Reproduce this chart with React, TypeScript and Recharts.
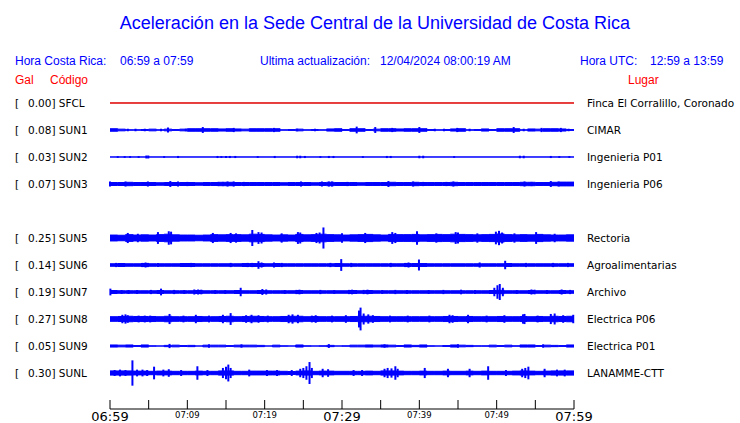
import { Area, ComposedChart, ErrorBar, Scatter, XAxis, YAxis } from 'recharts';

// minutes after 06:59 (local time)
const xTicks = [0, 5, 10, 15, 20, 25, 30, 35, 40, 45, 50, 55, 60];
const xTickLabels = ['06:59', '', '07:09', '', '07:19', '', '07:29', '', '07:39', '', '07:49', '', '07:59'];
const majorTicks = [0, 30, 60];

const codes = ['SFCL', 'SUN1', 'SUN2', 'SUN3', 'SUN5', 'SUN6', 'SUN7', 'SUN8', 'SUN9', 'SUNL'];
const peakGal = ['0.00', '0.08', '0.03', '0.07', '0.25', '0.14', '0.19', '0.27', '0.05', '0.30'];
const places = [
  'Finca El Corralillo, Coronado',
  'CIMAR',
  'Ingenieria P01',
  'Ingenieria P06',
  'Rectoria',
  'Agroalimentarias',
  'Archivo',
  'Electrica P06',
  'Electrica P01',
  'LANAMME-CTT'
];
// row of each station (row 4 is empty)
const rows = [0, 1, 2, 3, 5, 6, 7, 8, 9, 10];

// background half-amplitude per minute, in Gal
const sfclEnv = [0];
const sun1Env = [
  0.03, 0.02, 0.005, 0.005, 0.01, 0.02, 0.005, 0.02, 0.01, 0.02,
  0.03, 0.03, 0.03, 0.03, 0.025, 0.03, 0.025, 0.02, 0.03, 0.03,
  0.03, 0.03, 0.005, 0.01, 0.02, 0.005, 0.01, 0.005, 0.025, 0.03,
  0.01, 0.03, 0.03, 0.01, 0.02, 0.03, 0.03, 0.025, 0.03, 0.03,
  0.03, 0.01, 0.005, 0.01, 0.025, 0.03, 0.005, 0.01, 0.025, 0.01,
  0.03, 0.03, 0.03, 0.005, 0.025, 0.02, 0.03, 0.03, 0.025, 0.01
];
const sun2Env = [0];
const sun3Env = [
  0.035, 0.035, 0.04, 0.035, 0.035, 0.035, 0.03, 0.035, 0.035, 0.035,
  0.035, 0.03, 0.035, 0.035, 0.04, 0.04, 0.035, 0.035, 0.035, 0.035,
  0.035, 0.035, 0.03, 0.035, 0.035, 0.035, 0.03, 0.035, 0.04, 0.035,
  0.035, 0.035, 0.03, 0.035, 0.035, 0.035, 0.04, 0.035, 0.035, 0.04,
  0.035, 0.035, 0.035, 0.035, 0.04, 0.035, 0.035, 0.035, 0.035, 0.035,
  0.035, 0.035, 0.035, 0.04, 0.04, 0.035, 0.035, 0.04, 0.045, 0.045
];
const sun5Env = [
  0.07, 0.065, 0.08, 0.07, 0.075, 0.07, 0.08, 0.09, 0.075, 0.07,
  0.07, 0.065, 0.07, 0.08, 0.075, 0.08, 0.08, 0.075, 0.09, 0.085,
  0.075, 0.07, 0.075, 0.07, 0.085, 0.075, 0.08, 0.09, 0.08, 0.075,
  0.07, 0.075, 0.08, 0.085, 0.075, 0.07, 0.085, 0.08, 0.08, 0.085,
  0.075, 0.08, 0.085, 0.08, 0.09, 0.085, 0.08, 0.075, 0.08, 0.085,
  0.095, 0.08, 0.075, 0.08, 0.075, 0.085, 0.075, 0.07, 0.07, 0.075
];
const sun6Env = [
  0.03, 0.035, 0.03, 0.03, 0.035, 0.03, 0.03, 0.03, 0.03, 0.035,
  0.035, 0.03, 0.03, 0.03, 0.03, 0.03, 0.03, 0.035, 0.035, 0.035,
  0.03, 0.035, 0.03, 0.03, 0.03, 0.03, 0.03, 0.03, 0.03, 0.035,
  0.03, 0.03, 0.03, 0.03, 0.03, 0.03, 0.03, 0.03, 0.035, 0.035,
  0.035, 0.03, 0.03, 0.03, 0.03, 0.03, 0.03, 0.03, 0.03, 0.03,
  0.03, 0.035, 0.03, 0.03, 0.03, 0.03, 0.03, 0.03, 0.03, 0.03
];
const sun7Env = [
  0.035, 0.03, 0.03, 0.03, 0.03, 0.03, 0.035, 0.03, 0.03, 0.03,
  0.03, 0.035, 0.03, 0.03, 0.03, 0.03, 0.035, 0.03, 0.03, 0.035,
  0.03, 0.03, 0.03, 0.03, 0.035, 0.03, 0.03, 0.03, 0.03, 0.03,
  0.03, 0.035, 0.03, 0.035, 0.03, 0.03, 0.03, 0.03, 0.03, 0.03,
  0.03, 0.03, 0.03, 0.03, 0.03, 0.03, 0.03, 0.03, 0.03, 0.035,
  0.04, 0.03, 0.03, 0.03, 0.035, 0.03, 0.03, 0.03, 0.035, 0.03
];
const sun8Env = [
  0.055, 0.06, 0.065, 0.06, 0.06, 0.06, 0.055, 0.065, 0.055, 0.055,
  0.055, 0.06, 0.055, 0.055, 0.06, 0.065, 0.055, 0.06, 0.065, 0.06,
  0.055, 0.055, 0.06, 0.065, 0.065, 0.055, 0.06, 0.055, 0.055, 0.055,
  0.055, 0.06, 0.065, 0.065, 0.06, 0.055, 0.055, 0.055, 0.055, 0.055,
  0.055, 0.055, 0.055, 0.06, 0.06, 0.055, 0.06, 0.055, 0.055, 0.055,
  0.06, 0.055, 0.055, 0.06, 0.055, 0.06, 0.055, 0.065, 0.06, 0.065
];
const sun9Env = [
  0.025, 0.02, 0.025, 0.01, 0.025, 0.005, 0, 0.015, 0.02, 0.01,
  0.015, 0, 0.02, 0.02, 0.02, 0.01, 0.02, 0.02, 0.02, 0.015,
  0, 0.02, 0.005, 0, 0.025, 0.005, 0, 0.005, 0.015, 0,
  0.005, 0.02, 0.02, 0.025, 0.02, 0.025, 0.02, 0.01, 0.025, 0.015,
  0.025, 0.005, 0, 0.01, 0.025, 0.02, 0.015, 0.005, 0.005, 0.02,
  0.01, 0.02, 0.005, 0.025, 0.025, 0.01, 0.02, 0.015, 0.01, 0.025
];
const sunlEnv = [
  0.05, 0.05, 0.05, 0.045, 0.045, 0.04, 0.045, 0.045, 0.04, 0.04,
  0.04, 0.045, 0.04, 0.04, 0.05, 0.05, 0.04, 0.04, 0.045, 0.045,
  0.045, 0.045, 0.04, 0.035, 0.045, 0.05, 0.04, 0.045, 0.045, 0.04,
  0.04, 0.04, 0.04, 0.045, 0.04, 0.05, 0.05, 0.045, 0.04, 0.04,
  0.045, 0.04, 0.04, 0.045, 0.04, 0.04, 0.045, 0.04, 0.045, 0.04,
  0.04, 0.04, 0.045, 0.05, 0.045, 0.04, 0.045, 0.05, 0.05, 0.05
];

// short bursts: [minute, half-amplitude in Gal]
const sfclPeaks: number[][] = [];
const sun1Peaks = [
  [2.3, 0.03], [3.3, 0.03], [4.5, 0.03], [6.6, 0.03], [7.5, 0.06], [9.8, 0.03], [12.0, 0.07],
  [16.0, 0.05], [21.2, 0.05], [24.2, 0.03], [26.5, 0.03], [31.9, 0.08], [34.3, 0.07], [36.5, 0.05],
  [40.0, 0.07], [42.0, 0.03], [43.2, 0.03], [44.9, 0.05], [46.5, 0.03], [52.2, 0.07], [53.5, 0.03],
  [55.8, 0.05], [58.3, 0.05], [59.3, 0.03]
];
const sun2Peaks = [
  [1.0, 0.02], [1.9, 0.02], [2.6, 0.02], [3.7, 0.02], [4.7, 0.035], [4.95, 0.035], [7.0, 0.02],
  [8.8, 0.025], [13.9, 0.025], [14.4, 0.02], [15.0, 0.025], [15.5, 0.025], [16.2, 0.025],
  [19.1, 0.02], [21.3, 0.025], [24.2, 0.03], [24.6, 0.03], [25.2, 0.025], [27.2, 0.02],
  [28.3, 0.025], [28.9, 0.025], [32.7, 0.02], [35.8, 0.025], [36.3, 0.025], [40.0, 0.03],
  [40.5, 0.03], [44.5, 0.02], [53.0, 0.03], [53.5, 0.03], [57.0, 0.025], [58.1, 0.02], [59.4, 0.02]
];
const sun3Peaks = [
  [0.0, 0.06], [2.0, 0.06], [4.9, 0.06], [7.8, 0.07], [8.8, 0.06], [10.0, 0.05], [14.0, 0.05],
  [14.6, 0.05], [15.2, 0.06], [16.0, 0.06], [17.3, 0.05], [24.7, 0.06], [27.4, 0.06], [28.3, 0.06],
  [28.7, 0.06], [30.7, 0.05], [36.0, 0.07], [39.2, 0.06], [40.5, 0.05], [43.5, 0.05], [44.4, 0.06],
  [53.6, 0.06], [54.5, 0.05], [57.0, 0.07], [58.0, 0.06]
];
const sun5Peaks = [
  [2.3, 0.12], [3.6, 0.1], [6.2, 0.14], [7.6, 0.16], [7.9, 0.15], [13.3, 0.12], [15.6, 0.12],
  [16.3, 0.11], [18.4, 0.19], [19.2, 0.14], [19.6, 0.13], [22.2, 0.11], [24.3, 0.14], [24.6, 0.13],
  [26.7, 0.12], [27.1, 0.13], [27.6, 0.25], [30.0, 0.11], [33.0, 0.12], [36.5, 0.14], [36.9, 0.12],
  [39.7, 0.16], [42.2, 0.11], [44.7, 0.14], [45.0, 0.13], [47.5, 0.11], [49.9, 0.15], [50.3, 0.17],
  [50.7, 0.13], [52.3, 0.11], [55.1, 0.14], [57.5, 0.1]
];
const sun6Peaks = [
  [0.8, 0.05], [1.2, 0.045], [4.2, 0.05], [4.6, 0.06], [4.9, 0.05], [6.2, 0.045], [9.4, 0.045],
  [10.0, 0.045], [10.5, 0.05], [15.6, 0.05], [17.8, 0.05], [18.4, 0.05], [19.2, 0.09], [19.6, 0.06],
  [21.2, 0.06], [22.2, 0.05], [28.5, 0.05], [29.9, 0.14], [31.2, 0.05], [36.3, 0.05], [38.2, 0.05],
  [38.6, 0.06], [39.95, 0.13], [47.8, 0.06], [51.1, 0.1], [53.8, 0.05], [57.3, 0.05], [59.2, 0.05]
];
const sun7Peaks = [
  [0.05, 0.08], [1.5, 0.045], [2.4, 0.045], [3.5, 0.045], [5.3, 0.05], [6.6, 0.08], [8.3, 0.05],
  [9.6, 0.045], [10.9, 0.06], [11.4, 0.06], [11.8, 0.055], [13.6, 0.045], [14.9, 0.045],
  [16.9, 0.1], [19.7, 0.07], [20.2, 0.06], [22.6, 0.045], [24.1, 0.05], [24.5, 0.055], [27.2, 0.05],
  [29.0, 0.045], [30.9, 0.05], [31.3, 0.055], [32.8, 0.05], [33.3, 0.055], [35.2, 0.045],
  [36.9, 0.05], [38.4, 0.045], [41.2, 0.045], [43.1, 0.05], [45.4, 0.055], [47.2, 0.045],
  [49.7, 0.1], [50.1, 0.16], [50.4, 0.19], [50.8, 0.1], [52.6, 0.045], [54.5, 0.06], [54.9, 0.055],
  [56.5, 0.045], [58.4, 0.06], [59.5, 0.05]
];
const sun8Peaks = [
  [1.6, 0.1], [2.0, 0.11], [2.3, 0.09], [3.7, 0.08], [4.5, 0.08], [5.2, 0.08], [7.7, 0.12],
  [9.5, 0.08], [11.1, 0.1], [12.8, 0.08], [14.6, 0.1], [15.6, 0.14], [17.6, 0.09], [18.3, 0.1],
  [19.2, 0.09], [20.4, 0.08], [23.1, 0.1], [23.6, 0.11], [24.3, 0.1], [26.1, 0.08], [26.6, 0.09],
  [28.7, 0.08], [30.5, 0.09], [32.2, 0.2], [32.4, 0.27], [32.8, 0.13], [33.4, 0.11], [34.0, 0.09],
  [36.2, 0.08], [38.5, 0.08], [41.3, 0.08], [43.9, 0.1], [44.3, 0.09], [46.3, 0.1], [48.7, 0.08],
  [51.0, 0.09], [53.4, 0.11], [53.6, 0.12], [55.3, 0.08], [57.0, 0.12], [57.5, 0.13], [58.6, 0.09],
  [59.9, 0.1]
];
const sun9Peaks = [[7.7, 0.05], [12.8, 0.04], [17.0, 0.04], [28.3, 0.045], [35.5, 0.04], [45.0, 0.04], [56.0, 0.04]];
const sunlPeaks = [
  [0.6, 0.07], [1.3, 0.08], [2.0, 0.07], [2.9, 0.3], [3.5, 0.08], [4.2, 0.08], [4.8, 0.07],
  [5.7, 0.15], [6.9, 0.08], [7.6, 0.09], [9.2, 0.07], [11.3, 0.16], [12.6, 0.07], [14.6, 0.12],
  [15.0, 0.15], [15.3, 0.2], [15.6, 0.12], [18.0, 0.08], [20.3, 0.07], [21.6, 0.07], [23.5, 0.07],
  [24.6, 0.1], [25.0, 0.12], [25.4, 0.16], [25.8, 0.26], [26.1, 0.12], [27.5, 0.1], [28.2, 0.09],
  [31.5, 0.07], [32.6, 0.07], [35.5, 0.1], [35.9, 0.12], [36.4, 0.11], [36.9, 0.16], [37.2, 0.1],
  [40.7, 0.12], [43.7, 0.1], [46.5, 0.1], [48.9, 0.16], [51.2, 0.07], [53.3, 0.1], [53.7, 0.12],
  [54.1, 0.15], [56.2, 0.1], [57.8, 0.08], [58.8, 0.08]
];

const envelopes = [sfclEnv, sun1Env, sun2Env, sun3Env, sun5Env, sun6Env, sun7Env, sun8Env, sun9Env, sunlEnv];
const peaks = [sfclPeaks, sun1Peaks, sun2Peaks, sun3Peaks, sun5Peaks, sun6Peaks, sun7Peaks, sun8Peaks, sun9Peaks, sunlPeaks];

const BLUE = '#0000ff';
const RED = '#e00000';
const SLOT = 0.64; // Gal between two rows
const Y_MAX = 0.308;
const Y_MIN = -7.253;
const SPAN = 60;

const offsets = rows.map((r) => -r * SLOT);

const traces = codes.map((code, i) => {
  const off = offsets[i];
  const env = envelopes[i];
  const step = SPAN / env.length;
  const band = env.map((a, k) => ({ t: k * step, band: [off - a, off + a] }));
  band.push({ t: SPAN, band: band[band.length - 1].band });
  const spikes = peaks[i].map(([t, a]) => ({ t, y: off, err: a }));
  return { code, band, spikes, color: i === 0 ? RED : BLUE };
});

const labelFont = '"DejaVu Sans", sans-serif';
const headFont = '"Liberation Sans", Arial, sans-serif';

const NoShape = () => <g />;

const LeftTick = ({ y, payload }: any) => {
  const i = offsets.indexOf(payload.value);
  if (i < 0) return null;
  return (
    <text x={15} y={y + 4} fontSize={10.5} fontFamily={labelFont} fill="#000">
      [<tspan x={28}>{`${peakGal[i]}] ${codes[i]}`}</tspan>
    </text>
  );
};

const RightTick = ({ y, payload }: any) => {
  const i = offsets.indexOf(payload.value);
  if (i < 0) return null;
  return (
    <text x={587} y={y + 4} fontSize={10.5} fontFamily={labelFont} fill="#000">
      {places[i]}
    </text>
  );
};

const TimeTick = ({ x, y, payload }: any) => {
  const k = xTicks.indexOf(payload.value);
  const big = majorTicks.includes(payload.value);
  return (
    <g>
      <line x1={x} x2={x} y1={y - 9} y2={y} stroke="#000" />
      <text
        x={x}
        y={big ? y + 12 : y + 9}
        textAnchor="middle"
        fontSize={big ? 13 : 8.5}
        fontFamily={labelFont}
        fill="#000"
      >
        {xTickLabels[k]}
      </text>
    </g>
  );
};

export default function App() {
  return (
    <div style={{ position: 'absolute', left: 0, top: 0, width: 740, height: 423, background: '#fff' }}>
      <ComposedChart width={740} height={423} margin={{ top: 90, right: 0, bottom: 0, left: 0 }}>
        <XAxis
          dataKey="t"
          type="number"
          domain={[0, SPAN]}
          ticks={xTicks}
          interval={0}
          height={14}
          tickSize={0}
          tickMargin={0}
          tickLine={false}
          axisLine={{ stroke: '#000' }}
          tick={<TimeTick />}
        />
        <YAxis
          yAxisId="left"
          type="number"
          domain={[Y_MIN, Y_MAX]}
          allowDataOverflow
          ticks={offsets}
          interval={0}
          width={110}
          axisLine={false}
          tickLine={false}
          tick={<LeftTick />}
        />
        <YAxis
          yAxisId="right"
          orientation="right"
          type="number"
          domain={[Y_MIN, Y_MAX]}
          allowDataOverflow
          ticks={offsets}
          interval={0}
          width={166}
          axisLine={false}
          tickLine={false}
          tick={<RightTick />}
        />
        {traces.map((tr) => (
          <Area
            key={`band-${tr.code}`}
            yAxisId="left"
            data={tr.band}
            dataKey="band"
            type="stepAfter"
            stroke={tr.color}
            strokeWidth={1}
            fill={tr.color}
            fillOpacity={1}
            dot={false}
            activeDot={false}
            isAnimationActive={false}
          />
        ))}
        {traces
          .filter((tr) => tr.spikes.length > 0)
          .map((tr) => (
            <Scatter
              key={`spk-${tr.code}`}
              yAxisId="left"
              data={tr.spikes}
              dataKey="y"
              shape={NoShape}
              isAnimationActive={false}
            >
              <ErrorBar dataKey="err" direction="y" width={0} stroke={BLUE} strokeWidth={2} isAnimationActive={false} />
            </Scatter>
          ))}
      </ComposedChart>
      <svg width={740} height={423} style={{ position: 'absolute', left: 0, top: 0, pointerEvents: 'none' }}>
        <text x={375} y={29} textAnchor="middle" fontSize={18} fontFamily={headFont} fill={BLUE}>
          Aceleración en la Sede Central de la Universidad de Costa Rica
        </text>
        <g fontSize={12} fontFamily={headFont} fill={BLUE}>
          <text x={15} y={65}>Hora Costa Rica:</text>
          <text x={120} y={65}>06:59 a 07:59</text>
          <text x={260} y={65}>Ultima actualización:</text>
          <text x={380} y={65}>12/04/2024 08:00:19 AM</text>
          <text x={580} y={65}>Hora UTC:</text>
          <text x={650} y={65}>12:59 a 13:59</text>
        </g>
        <g fontSize={12} fontFamily={headFont} fill="#ff0000">
          <text x={15} y={84}>Gal</text>
          <text x={50} y={84}>Código</text>
          <text x={628} y={84}>Lugar</text>
        </g>
      </svg>
    </div>
  );
}
